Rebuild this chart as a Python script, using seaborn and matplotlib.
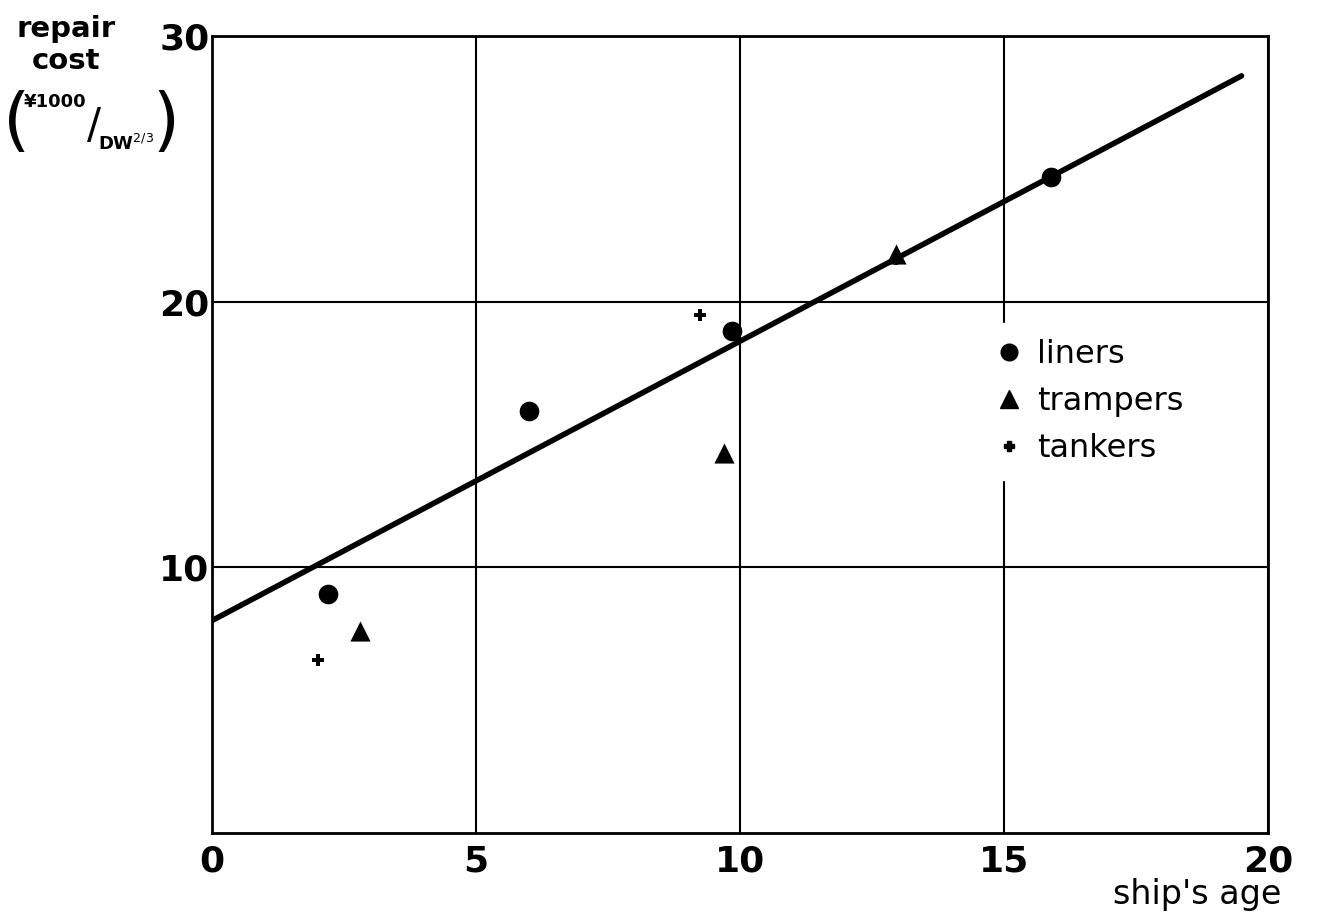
import matplotlib
matplotlib.use("Agg")
import matplotlib.pyplot as plt
import seaborn as sns
import pandas as pd
from matplotlib.lines import Line2D

# ---- data ----
liners_x = [2.2, 6.0, 9.85, 15.9]
liners_y = [9.0, 15.9, 18.9, 24.7]
trampers_x = [2.8, 9.7, 12.95]
trampers_y = [7.6, 14.3, 21.8]
tankers_x = [2.0, 9.25, 12.95]
tankers_y = [6.5, 19.5, 21.6]
line_x = [0.0, 19.5]
line_y = [8.0, 28.5]
x_ticks = [0, 5, 10, 15, 20]
y_ticks = [10, 20, 30]
categories = ["liners", "trampers", "tankers"]

df = pd.DataFrame({
    "age": liners_x + trampers_x + tankers_x,
    "cost": liners_y + trampers_y + tankers_y,
    "type": [categories[0]] * len(liners_x) + [categories[1]] * len(trampers_x)
            + [categories[2]] * len(tankers_x),
})
line_df = pd.DataFrame({"age": line_x, "cost": line_y})

sns.set_style("white")
plt.rcParams["font.family"] = ["DejaVu Sans"]
plt.rcParams["text.color"] = "black"
plt.rcParams["xtick.color"] = "black"
plt.rcParams["ytick.color"] = "black"

fig = plt.figure(figsize=(13.18, 9.23), dpi=100)
ax = fig.add_axes([0.161, 0.0975, 0.801, 0.8635])

ax.set_xlim(0, 20)
ax.set_ylim(0, 30)
ax.set_xticks(x_ticks)
ax.set_yticks(y_ticks)
ax.grid(True, color="black", linewidth=1.5)
ax.set_axisbelow(True)
for s in ax.spines.values():
    s.set_color("black")
    s.set_linewidth(2)

sns.lineplot(data=line_df, x="age", y="cost", ax=ax, color="black",
             linewidth=4, solid_capstyle="round", zorder=3)

markers = {"liners": "o", "trampers": "^", "tankers": "P"}
sizes = {"liners": 200, "trampers": 210, "tankers": 70}
for cat in categories:
    sub = df[df["type"] == cat]
    sns.scatterplot(data=sub, x="age", y="cost", ax=ax, marker=markers[cat],
                    s=sizes[cat], color="black", edgecolor="black",
                    linewidth=0, zorder=4)

ax.set_xlabel("")
ax.set_ylabel("")
ax.tick_params(axis="both", length=0, labelsize=26, labelcolor="black")
ax.set_xticklabels([str(t) for t in x_ticks], fontweight="bold")
ax.set_yticklabels([str(t) for t in y_ticks], fontweight="bold")
ax.tick_params(axis="x", pad=8)
ax.tick_params(axis="y", pad=2)

# legend
handles = [
    Line2D([], [], marker="o", linestyle="none", color="black", markersize=12),
    Line2D([], [], marker="^", linestyle="none", color="black", markersize=13),
    Line2D([], [], marker="P", linestyle="none", color="black", markersize=7),
]
leg = ax.legend(handles, categories, loc="upper left",
                bbox_to_anchor=(0.706, 0.66), frameon=True, fontsize=23,
                handletextpad=0.3, labelspacing=0.5, borderpad=0.5,
                handlelength=1.2, labelcolor="black")
leg.get_frame().set_facecolor("white")
leg.get_frame().set_edgecolor("white")
leg.get_frame().set_alpha(1)
leg.set_zorder(5)

# axis labels
fig.text(0.972, 0.031, "ship's age", ha="right", va="center", fontsize=24)
fig.text(0.05, 0.969, "repair", ha="center", va="center", fontsize=21,
         fontweight="bold")
fig.text(0.05, 0.934, "cost", ha="center", va="center", fontsize=21,
         fontweight="bold")
fig.text(0.002, 0.866, "(", ha="left", va="center", fontsize=50)
fig.text(0.116, 0.866, ")", ha="left", va="center", fontsize=50)
fig.text(0.018, 0.889, "¥1000", ha="left", va="center", fontsize=13,
         fontweight="bold")
fig.text(0.071, 0.864, "/", ha="center", va="center", fontsize=30)
fig.text(0.074, 0.844, r"DW$^{2/3}$", ha="left", va="center", fontsize=13,
         fontweight="bold")

fig.savefig("out.png", dpi=100)
